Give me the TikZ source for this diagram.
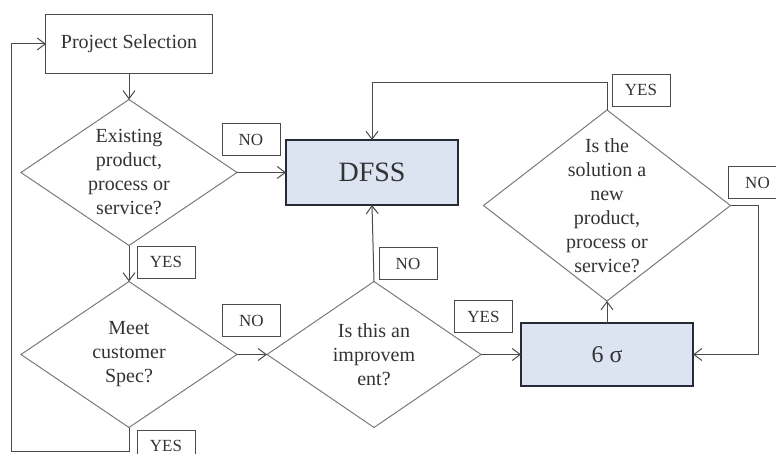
\documentclass[tikz,border=0pt]{standalone}
\usepackage{fontspec}
\setmainfont{Liberation Serif}
\usetikzlibrary{arrows.meta,positioning,shapes.geometric,calc}
\definecolor{flowgray}{HTML}{4A4A4A}
\definecolor{linegray}{HTML}{7A7A7A}
\definecolor{sigmablue}{HTML}{DCE4F2}
\definecolor{sigmaedge}{HTML}{262B36}

\begin{document}
\begin{tikzpicture}[
  block/.style={draw=flowgray, rectangle, minimum width=83pt, minimum height=29.5pt,
                font=\fontsize{10}{12}\selectfont, align=center, line width=0.5pt,
                inner sep=0pt, outer sep=0pt, text=black!80},
  bigblock/.style={draw=sigmaedge, fill=sigmablue, rectangle, line width=1.3pt,
                minimum width=86pt, minimum height=31.5pt,
                font=\fontsize{14}{16}\selectfont, inner sep=0pt, outer sep=0pt, text=black!80},
  decision/.style={draw=linegray, diamond, line width=0.5pt, inner sep=0pt, outer sep=0pt},
  dtext/.style={align=center, font=\fontsize{10}{12}\selectfont, inner sep=0pt, text=black!80},
  tag/.style={draw=flowgray, rectangle, minimum width=29pt, minimum height=16pt,
                inner sep=0pt, font=\fontsize{8.5}{10}\selectfont, text=black!80},
  arr/.style={-{Straight Barb[length=4pt, width=6pt]}, draw=flowgray, line width=0.5pt}
]
  \useasboundingbox (-64.5pt,22pt) rectangle (323.5pt,-205pt);

  %% Start
  \node[block] (select) at (0,0) {Project Selection};

  %% Decisions and blocks
  \node[decision, minimum width=108pt, minimum height=73pt, below=13pt of select] (exist) {};
  \node[dtext] (existtxt) at (exist) {Existing\\product,\\process or\\service?};

  \node[bigblock, right=24.5pt of exist, minimum height=32.5pt] (dfss) {DFSS};

  \node[decision, minimum width=108pt, minimum height=73pt, below=18pt of exist] (meet) {};
  \node[dtext] (meettxt) at (meet) {Meet\\customer\\Spec?};

  \node[decision, minimum width=107pt, minimum height=73pt, right=15pt of meet] (improve) {};
  \node[dtext] (improvetxt) at (improve) {Is this an\\improvem\\ent?};

  \node[bigblock, right=20pt of improve, font=\fontsize{12}{14}\selectfont] (sigma) {6 σ};

  \node[decision, minimum width=123.5pt, minimum height=95.5pt, above=11pt of sigma] (newsol) {};
  \node[dtext] (newsoltxt) at (newsol) {Is the\\solution a\\new\\product,\\process or\\service?};

  %% Arrows
  \draw[arr] (select) -- (exist);
  \draw[arr] (exist) -- (dfss);
  \draw[arr] (exist) -- (meet);
  \draw[arr] (meet) -- (improve);
  \draw[arr] (improve.north) -- (dfss.south);
  \draw[arr] (improve) -- (sigma);
  \draw[arr] (sigma) -- (newsol);
  \draw[arr] (newsol.north) -- ++(0,13.5pt) -| (dfss.north);
  \draw[arr] (newsol.east) -- ++(14pt,0) |- (sigma.east);
  \draw[arr] (meet.south) -- ++(0,-12pt) -| ([xshift=-17pt]select.west) -- (select.west);

  %% Answer tags
  \node[tag] (no1) at ($(exist.east)+(7pt,16.5pt)$) {NO};
  \node[tag] (yes1) at ($(exist.south)+(18.5pt,-8.25pt)$) {YES};
  \node[tag] (no2) at ($(meet.east)+(7.25pt,17pt)$) {NO};
  \node[tag] (yes2) at ($(meet.south)+(18.5pt,-9.25pt)$) {YES};
  \node[tag] (no3) at ($(improve.north)+(17pt,9pt)$) {NO};
  \node[tag] (yes3) at ($(improve.east)+(1.25pt,19pt)$) {YES};
  \node[tag] (yes4) at ($(newsol.north)+(17pt,10pt)$) {YES};
  \node[tag] (no4) at ($(newsol.east)+(13.5pt,11.5pt)$) {NO};
\end{tikzpicture}
\end{document}
